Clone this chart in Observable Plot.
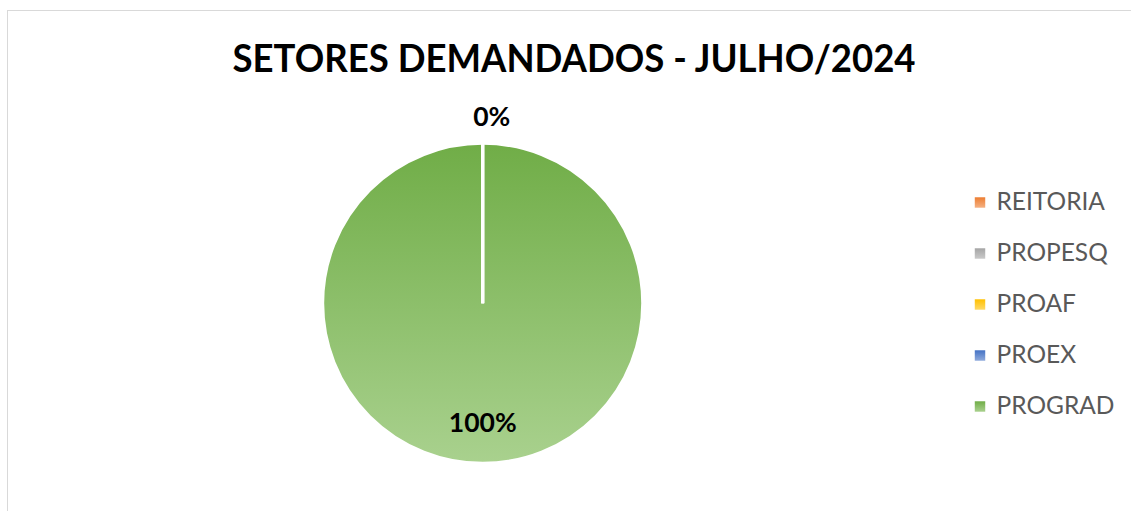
<!DOCTYPE html>
<html><head><meta charset="utf-8">
<script src="https://cdn.jsdelivr.net/npm/d3@7"></script>
<script src="https://cdn.jsdelivr.net/npm/@observablehq/plot@0.6"></script>
<style>
body{margin:0;background:#fff;}
#wrap{position:relative;width:1131px;height:511px;overflow:hidden;background:#fff;font-family:Lato,"Open Sans",sans-serif;}
#frame{position:absolute;left:7px;top:10px;width:1300px;height:700px;border-left:1px solid #d9d9d9;border-top:1px solid #d9d9d9;box-sizing:border-box;}
#title{position:absolute;left:0;top:38.6px;width:1149px;margin:0;text-align:center;font:700 37.7px Lato,"Open Sans",sans-serif;line-height:37.7px;color:#000;white-space:nowrap;}
#title span{display:inline-block;transform-origin:50% 50%;}
#chart{position:absolute;left:0;top:95px;}
</style>
</head><body>
<div id="wrap">
  <div id="frame"></div>
  <h2 id="title"><span>SETORES DEMANDADOS - JULHO/2024</span></h2>
  <div id="chart"></div>
</div>
<script>
// ---- data ----
const categories = ["REITORIA", "PROPESQ", "PROAF", "PROEX", "PROGRAD"];
const values = [0, 0, 0, 0, 1];
const baseColors = ["#ed7d31", "#a5a5a5", "#ffc000", "#4472c4", "#70ad47"];
const tintColors = ["#f4b183", "#c9c9c9", "#ffd966", "#8faadc", "#a9d18e"];

const rows = categories.map((c, i) => ({name: c, value: values[i], i}));

// layout constants
const PIE_CX = 482.7, PIE_CY = 303.3 - 95, PIE_R = 160;

function pieMark(index, scales, vals, dims, context) {
  const g = d3.create("svg:g").attr("aria-label", "pie");
  const defs = g.append("defs");
  rows.forEach((d) => {
    const lg = defs.append("linearGradient").attr("id", "pg" + d.i)
      .attr("x1", 0).attr("y1", 0).attr("x2", 0).attr("y2", 1);
    lg.append("stop").attr("offset", "0%").attr("stop-color", baseColors[d.i]);
    lg.append("stop").attr("offset", "100%").attr("stop-color", tintColors[d.i]);
  });
  const total = d3.sum(rows, d => d.value);
  const arcs = d3.pie().sort(null).value(d => d.value)(rows);
  const arc = d3.arc().innerRadius(0).outerRadius(PIE_R);
  const ordered = arcs.slice().sort((a, b) => (b.value > 0) - (a.value > 0));
  const body = g.append("g").attr("transform", `translate(${PIE_CX},${PIE_CY})`);
  body.selectAll("path").data(ordered).join("path")
    .attr("d", arc)
    .attr("fill", d => `url(#pg${d.data.i})`)
    .attr("stroke", "#fff")
    .attr("stroke-width", 3)
    .attr("stroke-linejoin", "miter");
  // data labels (overlapping ones hidden, like the original)
  const seen = new Set();
  const fmt = d3.format(".0%");
  arcs.forEach(a => {
    const mid = (a.startAngle + a.endAngle) / 2;
    const key = mid.toFixed(3);
    if (seen.has(key)) return;
    seen.add(key);
    const share = a.value / total;
    const outside = share < 0.05;
    const rf = outside ? 1.17 : 0.745;
    const x = Math.sin(mid) * rf * PIE_R + (outside ? 9 : 0);
    const y = -Math.cos(mid) * rf * PIE_R;
    body.append("text")
      .attr("x", x).attr("y", y).attr("dy", "0.36em")
      .attr("text-anchor", "middle")
      .attr("font-family", "Lato, 'Open Sans', sans-serif")
      .attr("font-weight", 700)
      .attr("font-size", 26.5)
      .attr("fill", "#000")
      .text(fmt(share));
  });
  return g.node();
}

const plot = Plot.plot({
  width: 1131,
  height: 416,
  margin: 0,
  style: {fontFamily: "Lato, 'Open Sans', sans-serif", background: "transparent", overflow: "visible"},
  y: {type: "point", domain: categories, range: [105.5, 311.5], padding: 0, axis: null},
  color: {domain: categories, range: baseColors},
  marks: [
    pieMark,
    Plot.dot(categories, {y: d => d, frameAnchor: "left", dx: 979.5, symbol: "square", r: 5.9, fill: d => d, stroke: null}),
    Plot.text(categories, {y: d => d, text: d => d, frameAnchor: "left", dx: 996, textAnchor: "start", fill: "#595959", fontSize: 24.5})
  ]
});
document.getElementById("chart").appendChild(plot);

// gradient fill on legend swatches
const svg = d3.select(plot);
const ldefs = svg.append("defs");
categories.forEach((c, i) => {
  const lg = ldefs.append("linearGradient").attr("id", "lg" + i)
    .attr("x1", 0).attr("y1", 0).attr("x2", 0).attr("y2", 1);
  lg.append("stop").attr("offset", "0%").attr("stop-color", baseColors[i]);
  lg.append("stop").attr("offset", "100%").attr("stop-color", tintColors[i]);
});
svg.selectAll("g[aria-label=dot] path").each(function(_, i) {
  d3.select(this).attr("fill", `url(#lg${i})`);
});

// fit the title width to the original
const span = document.querySelector("#title span");
const w = span.getBoundingClientRect().width;
span.style.transform = `scaleX(${683 / w})`;
</script>
</body></html>
